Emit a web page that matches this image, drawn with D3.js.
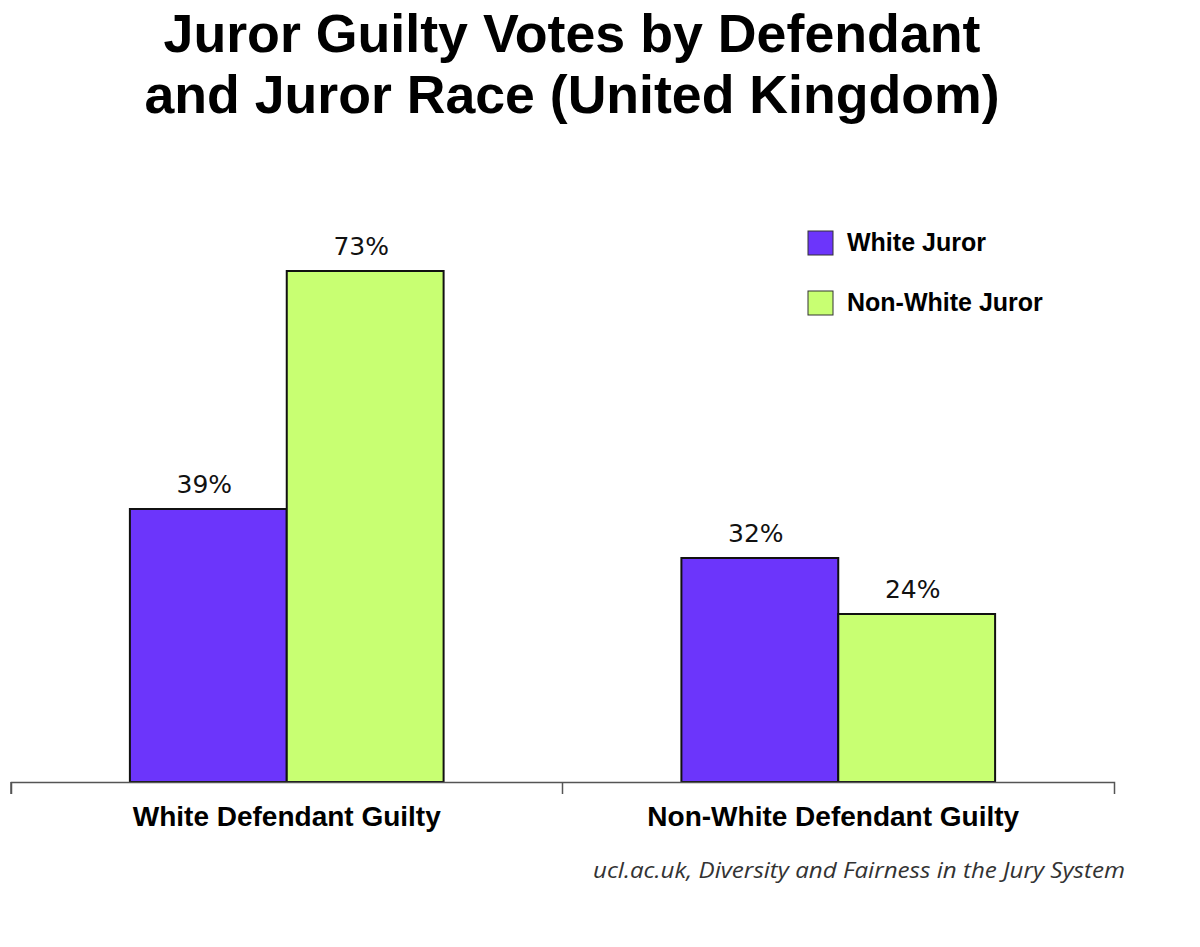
<!DOCTYPE html>
<html>
<head>
<meta charset="utf-8">
<script src="https://cdn.jsdelivr.net/npm/d3@7"></script>
<style>
  body { margin: 0; background: #fff; }
</style>
</head>
<body>
<div class="graph"></div>
<script>
const categories = ["White Defendant Guilty", "Non-White Defendant Guilty"]
const series = ["White Juror", "Non-White Juror"]
const whiteJuror = [39, 32]
const nonWhiteJuror = [73, 24]
const colors = ["#6c35fb", "#c8ff72"]
const titleLines = ["Juror Guilty Votes by Defendant", "and Juror Race (United Kingdom)"]
const source = "ucl.ac.uk, Diversity and Fairness in the Jury System"

const rows = categories.map((c, i) => ({
    category: c,
    values: [
        {series: series[0], value: whiteJuror[i]},
        {series: series[1], value: nonWhiteJuror[i]}
    ]
}))

const width = 1200, height = 947
const margin = {top: 82, right: 86, bottom: 165, left: 11}

const svg = d3.select(".graph").append("svg")
    .attr("width", width)
    .attr("height", height)

svg.append("rect")
    .attr("width", "100%")
    .attr("height", "100%")
    .style("fill", "#fff")

// title (the original lettering is condensed, so squeeze it to its width)
const titleWidths = [817, 855]
svg.append("g")
    .selectAll("text")
    .data(titleLines)
    .join("text")
    .attr("x", 572)
    .attr("y", (d, i) => 52 + i * 61)
    .attr("text-anchor", "middle")
    .attr("textLength", (d, i) => titleWidths[i])
    .attr("lengthAdjust", "spacingAndGlyphs")
    .style("font", "bold 54px 'Liberation Sans', Arial, sans-serif")
    .style("fill", "#000")
    .text(d => d)

const x0 = d3.scaleBand()
    .domain(categories)
    .range([margin.left, width - margin.right])
    .paddingInner(0)
    .paddingOuter(0)

const x1 = d3.scaleBand()
    .domain(series)
    .range([0, x0.bandwidth()])
    .paddingOuter(0.758)

const y = d3.scaleLinear()
    .domain([0, 100])
    .range([height - margin.bottom, height - margin.bottom - 700])

const color = d3.scaleOrdinal().domain(series).range(colors)

const groups = svg.append("g")
    .selectAll("g")
    .data(rows)
    .join("g")
    .attr("transform", d => `translate(${x0(d.category)},0)`)

groups.selectAll("rect")
    .data(d => d.values)
    .join("rect")
    .attr("x", d => x1(d.series))
    .attr("y", d => y(d.value))
    .attr("width", x1.bandwidth())
    .attr("height", d => y(0) - y(d.value))
    .attr("fill", d => color(d.series))
    .attr("stroke", "#111")
    .attr("stroke-width", 2)

groups.selectAll("text")
    .data(d => d.values)
    .join("text")
    .attr("x", d => x1(d.series) + x1.bandwidth() / 2 - 4)
    .attr("y", d => y(d.value) - 16)
    .attr("text-anchor", "middle")
    .style("font", "25px 'DejaVu Sans', sans-serif")
    .style("fill", "#111")
    .text(d => d.value + "%")

// x axis
const xAxis = g => g
    .attr("transform", `translate(0, ${y(0)})`)
    .call(d3.axisBottom(x0).tickSize(0).tickSizeOuter(12).tickFormat(""))
    .call(g => g.select(".domain").attr("stroke", "#555").attr("stroke-width", 1.5))

svg.append("g").call(xAxis)

// separator ticks between groups
svg.append("g")
    .selectAll("line")
    .data(categories)
    .join("line")
    .attr("x1", d => x0(d))
    .attr("x2", d => x0(d))
    .attr("y1", y(0))
    .attr("y2", y(0) + 12)
    .attr("stroke", "#555")
    .attr("stroke-width", 1.5)

svg.append("g")
    .selectAll("text")
    .data(categories)
    .join("text")
    .attr("x", (d, i) => x0(d) + x0.bandwidth() / 2 - i * 5)
    .attr("y", y(0) + 44)
    .attr("text-anchor", "middle")
    .style("font", "bold 28px 'Liberation Sans', Arial, sans-serif")
    .style("fill", "#000")
    .text(d => d)

// legend
const legend = svg.append("g")
    .attr("transform", "translate(808, 231)")
    .selectAll("g")
    .data(series)
    .join("g")
    .attr("transform", (d, i) => `translate(0, ${i * 60})`)

legend.append("rect")
    .attr("width", 25)
    .attr("height", 24)
    .attr("fill", d => color(d))
    .attr("stroke", "#333")
    .attr("stroke-width", 1)

legend.append("text")
    .attr("x", 39)
    .attr("y", 20)
    .style("font", "bold 25px 'Liberation Sans', Arial, sans-serif")
    .style("fill", "#000")
    .text(d => d)

// source
svg.append("text")
    .attr("x", 1125)
    .attr("y", 878)
    .attr("text-anchor", "end")
    .attr("textLength", 532)
    .attr("lengthAdjust", "spacingAndGlyphs")
    .style("font", "italic 22px 'Open Sans', Lato, sans-serif")
    .style("fill", "#333")
    .text(source)
</script>
</body>
</html>
